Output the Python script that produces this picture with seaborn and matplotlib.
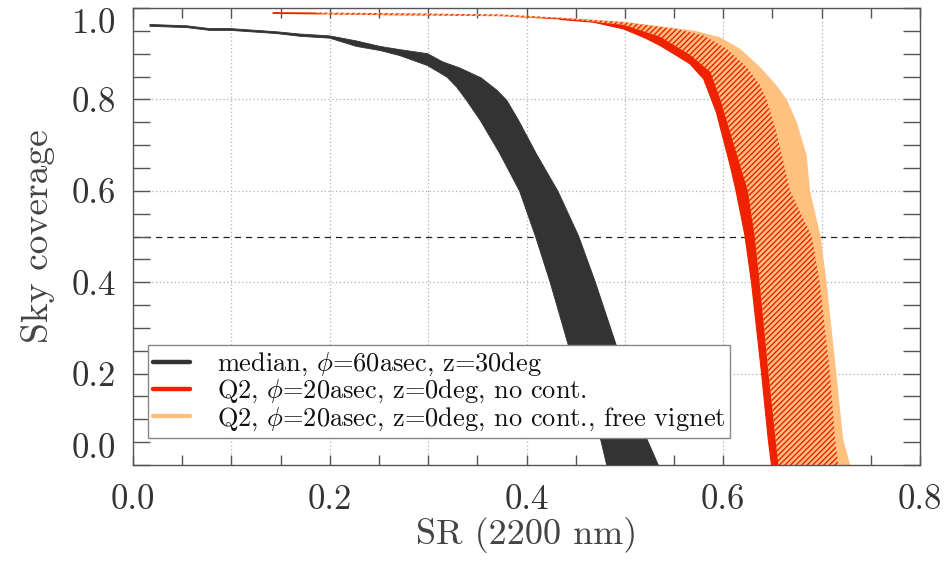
import matplotlib
matplotlib.use("Agg")
import matplotlib.pyplot as plt
import seaborn as sns
import numpy as np
import pandas as pd

# ---- data (SR at 2200 nm vs sky coverage), band edges ----
# median, phi=60asec, z=30deg : upper/right edge and lower/left edge
med_upper_sr = [0.017, 0.055, 0.078, 0.099, 0.146, 0.170, 0.200, 0.227, 0.251, 0.271, 0.2995,
                0.315, 0.332, 0.354, 0.370, 0.380, 0.392, 0.410, 0.432, 0.453, 0.470, 0.493, 0.522, 0.534]
med_upper_cov = [0.964, 0.961, 0.955, 0.955, 0.948, 0.943, 0.939, 0.928, 0.916, 0.909, 0.900,
                 0.882, 0.869, 0.847, 0.820, 0.798, 0.754, 0.681, 0.599, 0.501, 0.400, 0.251, 0.059, 0.0]
med_lower_sr = [0.017, 0.055, 0.078, 0.099, 0.146, 0.170, 0.200, 0.227, 0.251, 0.271, 0.2995,
                0.319, 0.329, 0.339, 0.353, 0.373, 0.393, 0.409, 0.424, 0.444, 0.475, 0.4815]
med_lower_cov = [0.960, 0.957, 0.951, 0.951, 0.944, 0.938, 0.934, 0.916, 0.907, 0.896, 0.874,
                 0.849, 0.827, 0.798, 0.754, 0.681, 0.599, 0.501, 0.400, 0.251, 0.059, 0.0]

# Q2, phi=20asec, z=0deg, no cont. : left edge and right (mid) edge
q2_left_sr = [0.142, 0.250, 0.373, 0.434, 0.468, 0.499, 0.522, 0.5357, 0.5526, 0.566, 0.580,
              0.588, 0.593, 0.600, 0.607, 0.613, 0.622, 0.6287, 0.639, 0.6456, 0.649]
q2_left_cov = [0.987, 0.985, 0.982, 0.975, 0.969, 0.954, 0.933, 0.918, 0.896, 0.878, 0.845,
               0.800, 0.772, 0.714, 0.656, 0.600, 0.503, 0.400, 0.200, 0.059, 0.0]
q2_mid_sr = [0.142, 0.183, 0.200, 0.373, 0.434, 0.499, 0.536, 0.566, 0.587, 0.597, 0.611, 0.625,
             0.632, 0.637, 0.646, 0.656]
q2_mid_cov = [0.991, 0.990, 0.9855, 0.982, 0.977, 0.963, 0.937, 0.898, 0.860, 0.800, 0.700, 0.600,
              0.500, 0.400, 0.200, 0.0]
# hatched upper range of the Q2 band
q2_hatch_sr = [0.142, 0.250, 0.373, 0.434, 0.499, 0.5526, 0.580, 0.6034, 0.6237, 0.6374, 0.644,
               0.654, 0.668, 0.690, 0.698, 0.7085, 0.7136, 0.717]
q2_hatch_cov = [0.991, 0.989, 0.986, 0.979, 0.969, 0.954, 0.940, 0.911, 0.871, 0.831, 0.800,
                0.729, 0.600, 0.500, 0.400, 0.200, 0.059, 0.0]

# Q2 ... free vignet : right edge (left edge shared with q2_left)
fv_right_sr = [0.142, 0.250, 0.373, 0.434, 0.499, 0.536, 0.5696, 0.5967, 0.617, 0.6374, 0.654,
               0.6645, 0.6747, 0.6848, 0.6882, 0.699, 0.705, 0.715, 0.7217, 0.729]
fv_right_cov = [0.991, 0.989, 0.986, 0.979, 0.970, 0.960, 0.951, 0.936, 0.911, 0.871, 0.831,
                0.800, 0.750, 0.678, 0.600, 0.500, 0.400, 0.200, 0.059, 0.0]

legend_labels = [r"median, $\phi$=60asec, z=30deg",
                 r"Q2, $\phi$=20asec, z=0deg, no cont.",
                 r"Q2, $\phi$=20asec, z=0deg, no cont., free vignet"]
colors = ["#333333", "#EE2200", "#FFC080"]

x_ticks = [0.0, 0.2, 0.4, 0.6, 0.8]
y_ticks = [0.0, 0.2, 0.4, 0.6, 0.8, 1.0]

# ---- style ----
sns.set_theme(style="white")
plt.rcParams["font.family"] = ["cmr10", "DejaVu Serif"]
plt.rcParams["mathtext.fontset"] = "cm"
plt.rcParams["axes.formatter.use_mathtext"] = True
plt.rcParams["hatch.linewidth"] = 1.0

fig = plt.figure(figsize=(9.49, 5.61), dpi=100)
ax = fig.add_axes([133 / 949, 1 - 465 / 561, 787 / 949, 457 / 561])


def band(sr_a, cov_a, sr_b, cov_b):
    xs = list(sr_a) + list(sr_b)[::-1]
    ys = list(cov_a) + list(cov_b)[::-1]
    return xs, ys


# grid and reference line (under the bands)
for gx in [0.1, 0.2, 0.3, 0.4, 0.5, 0.6, 0.7]:
    ax.axvline(gx, color="#b0b0b0", lw=0.9, ls=(0, (1, 2)), zorder=0)
for gy in [0.2, 0.4, 0.6, 0.8]:
    ax.axhline(gy, color="#b0b0b0", lw=0.9, ls=(0, (1, 2)), zorder=0)
ax.axhline(0.5, color="#222222", lw=0.9, ls=(0, (5, 4)), zorder=0.5)

# free vignet band (light orange)
xs, ys = band(fv_right_sr, fv_right_cov, q2_left_sr, q2_left_cov)
ax.fill(xs, ys, color=colors[2], lw=0, zorder=1)
# hatched range of Q2
xs, ys = band(q2_hatch_sr, q2_hatch_cov, q2_mid_sr, q2_mid_cov)
ax.fill(xs, ys, facecolor="none", edgecolor=colors[1], hatch="//////", lw=0, zorder=2)
# solid Q2 band
xs, ys = band(q2_mid_sr, q2_mid_cov, q2_left_sr, q2_left_cov)
ax.fill(xs, ys, color=colors[1], lw=0, zorder=3)
# median band
xs, ys = band(med_upper_sr, med_upper_cov, med_lower_sr, med_lower_cov)
ax.fill(xs, ys, color=colors[0], lw=0, zorder=3)

# soft edges with seaborn lines
sns.lineplot(x=med_upper_sr, y=med_upper_cov, sort=False, estimator=None, color=colors[0], lw=0.6, ax=ax, zorder=3)
sns.lineplot(x=med_lower_sr, y=med_lower_cov, sort=False, estimator=None, color=colors[0], lw=0.6, ax=ax, zorder=3)
sns.lineplot(x=q2_left_sr[3:], y=q2_left_cov[3:], sort=False, estimator=None, color=colors[1], lw=0.8, ax=ax, zorder=3)

# legend handles
for lab, c in zip(legend_labels, colors):
    ax.plot([], [], color=c, lw=3.2, label=lab)

ax.set_xlim(0.0, 0.8)
ax.set_ylim(0.0, 1.0)
ax.set_xticks(x_ticks)
ax.set_yticks(y_ticks)
ax.set_xticklabels([f"{v:.1f}" for v in x_ticks])
ax.set_yticklabels([f"{v:.1f}" for v in y_ticks])
ax.xaxis.set_minor_locator(matplotlib.ticker.MultipleLocator(0.05))
ax.yaxis.set_minor_locator(matplotlib.ticker.MultipleLocator(0.05))
ax.tick_params(axis="x", which="both", direction="in", length=7, width=1, color="#555555",
               top=True, bottom=True, labelsize=25, pad=14, labelcolor="#333333")
ax.tick_params(axis="y", which="both", direction="in", length=12, width=1, color="#555555",
               left=True, right=True, labelsize=25, pad=12, labelcolor="#333333")
ylabs = ax.get_yticklabels()
ylabs[0].set_va("bottom")
ylabs[-1].set_va("top")

for s in ax.spines.values():
    s.set_color("#555555")
    s.set_linewidth(1.0)

ax.set_xlabel("SR (2200 nm)", fontsize=26, color="#444444", labelpad=1)
ax.set_ylabel("Sky coverage", fontsize=27, color="#444444", labelpad=12)

leg = ax.legend(loc="lower left", bbox_to_anchor=(0.019, 0.059), fontsize=19, frameon=True,
                fancybox=False, edgecolor="#888888", framealpha=1, handlelength=1.4,
                handletextpad=1.0, borderpad=0.2, labelspacing=0.0, borderaxespad=0)
leg.get_frame().set_linewidth(1.0)
for t in leg.get_texts():
    t.set_color("#111111")

fig.savefig("out.png", dpi=100)
